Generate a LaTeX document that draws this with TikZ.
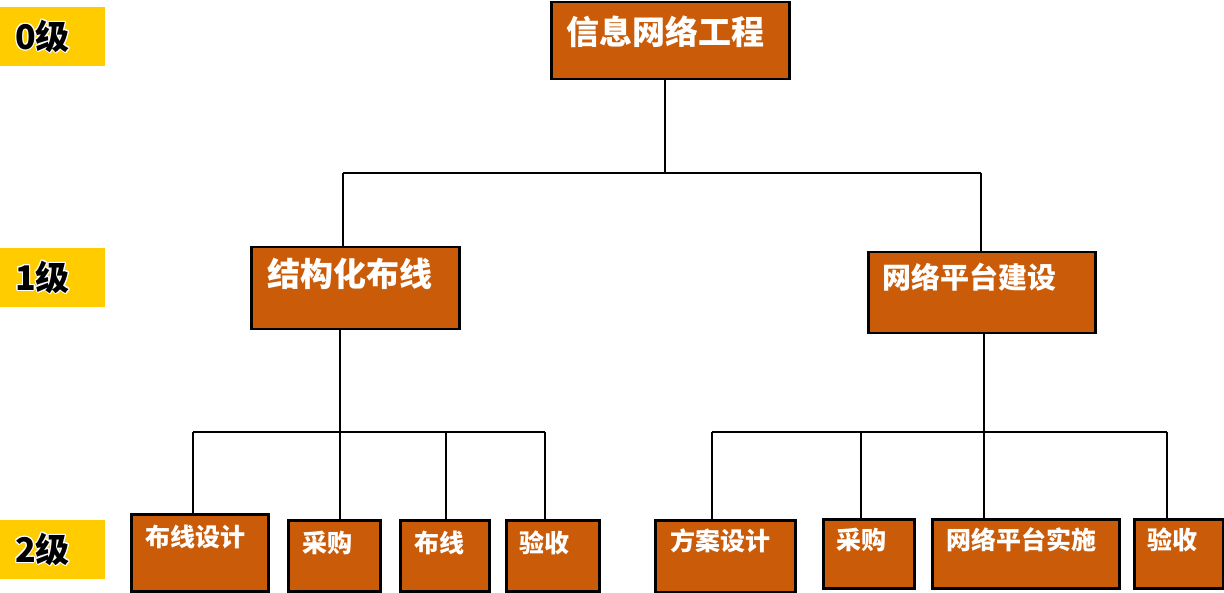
\documentclass[tikz,border=0pt]{standalone}
\usepackage{fontspec}
\usepackage{xcolor}
\usepackage{tikz}
\usepackage[copies]{contour}
\usetikzlibrary{positioning}
\setmainfont{Noto Sans CJK SC}
\newfontfamily\cjk{Noto Sans CJK SC}
\contourlength{1pt}
\definecolor{boxfill}{RGB}{201,91,9}
\definecolor{tagfill}{RGB}{255,204,0}

\begin{document}
\begin{tikzpicture}[x=1pt, y=-1pt,
  box/.style={draw=black, line width=2.5pt, fill=boxfill, anchor=north west, inner sep=0pt},
  boxtext/.style={anchor=west, inner sep=0pt, text=white},
  bigtext/.style={boxtext, font=\cjk\bfseries\fontsize{33}{33}\selectfont},
  midtext/.style={boxtext, font=\cjk\bfseries\fontsize{29}{29}\selectfont},
  smalltext/.style={boxtext, font=\cjk\bfseries\fontsize{25}{25}\selectfont},
  tag/.style={fill=tagfill, anchor=north west, inner xsep=15pt, inner ysep=0pt,
    text width=75pt, minimum height=59pt, align=left,
    font=\cjk\bfseries\fontsize{34}{34}\selectfont},
  link/.style={line width=2pt}]
\useasboundingbox (0,0) rectangle (1224,593);

% Ebenen
\node[tag] (lv0) at (0,7) {\contour{white}{0级}};
\node[tag] (lv1) at (0,248) {\contour{white}{1级}};
\node[tag] (lv2) at (0,520) {\contour{white}{2级}};

% 0级
\node[box, minimum width=238, minimum height=77] (root) at (550,1) {};
\node[bigtext] (rootT) at ([shift={(16,31)}]root.north west) {信息网络工程};

% 1级
\node[box, minimum width=208, minimum height=82] (l1) at (250,246) {};
\node[bigtext] (l1T) at ([shift={(17,28)}]l1.north west) {结构化布线};
\node[box, minimum width=227, minimum height=81] (l2) at (867,251) {};
\node[midtext] (l2T) at ([shift={(15,26)}]l2.north west) {网络平台建设};

% 2级
\node[box, minimum width=137, minimum height=77] (c1) at (130,513) {};
\node[smalltext] (c1T) at ([shift={(15,24)}]c1.north west) {布线设计};
\node[box, minimum width=92, minimum height=71] (c2) at (287,519) {};
\node[smalltext] (c2T) at ([shift={(15,24)}]c2.north west) {采购};
\node[box, minimum width=89, minimum height=71] (c3) at (399,519) {};
\node[smalltext] (c3T) at ([shift={(15,24)}]c3.north west) {布线};
\node[box, minimum width=93, minimum height=71] (c4) at (505,519) {};
\node[smalltext] (c4T) at ([shift={(14,24)}]c4.north west) {验收};
\node[box, minimum width=140, minimum height=72] (c5) at (654,519) {};
\node[smalltext] (c5T) at ([shift={(16,22)}]c5.north west) {方案设计};
\node[box, minimum width=91, minimum height=69] (c6) at (822,518) {};
\node[smalltext] (c6T) at ([shift={(14,22)}]c6.north west) {采购};
\node[box, minimum width=187, minimum height=69] (c7) at (931,518) {};
\node[smalltext] (c7T) at ([shift={(15,22)}]c7.north west) {网络平台实施};
\node[box, minimum width=89, minimum height=69] (c8) at (1133,518) {};
\node[smalltext] (c8T) at ([shift={(14,22)}]c8.north west) {验收};

% Verbindungen
\coordinate (top) at (665,173);
\coordinate (j1) at (343,173);
\coordinate (j2) at (981,173);
\draw[link] (top |- root.south) -- (top);
\draw[link] (j1) -- (j2);
\draw[link] (j1) -- (j1 |- l1.north);
\draw[link] (j2) -- (j2 |- l2.north);

\coordinate (d1) at (193,432);
\coordinate (d2) at (340,432);
\coordinate (d3) at (446,432);
\coordinate (d4) at (545,432);
\coordinate (d5) at (712,432);
\coordinate (d6) at (861,432);
\coordinate (d7) at (984,432);
\coordinate (d8) at (1167,432);
\draw[link] (d2 |- l1.south) -- (d2);
\draw[link] (d7 |- l2.south) -- (d7);
\draw[link] (d1) -- (d4);
\draw[link] (d5) -- (d8);
\foreach \i in {1,...,8}
  \draw[link] (d\i) -- (d\i |- c\i.north);
\end{tikzpicture}
\end{document}
